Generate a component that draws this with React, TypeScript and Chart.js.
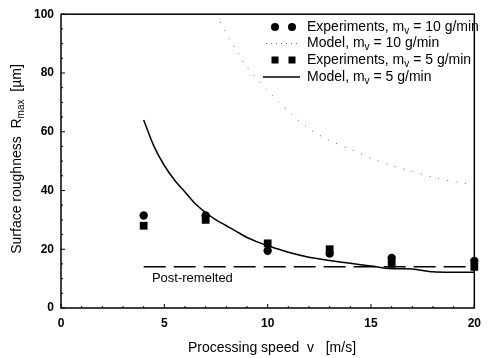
import React, { useEffect, useRef } from "react";
import { Chart, registerables } from "chart.js";

Chart.register(...registerables);

const speeds = [4, 7, 10, 13, 16, 20];
const exp10 = [31.5, 31.5, 19.5, 18.5, 17, 16];
const exp5 = [28, 30, 22, 20, 15, 14];

const model5Speed = [4, 4.5, 5, 5.5, 6, 6.5, 7, 7.5, 8, 8.5, 9, 9.5, 10, 11, 12, 13, 14, 15, 16, 17, 18, 19, 20];
const model5Vals = [64, 55, 48.5, 43.5, 39.5, 35.5, 32.5, 30, 28, 26, 24, 22.5, 21.2, 19, 17.3, 16.2, 15.2, 14.3, 13.4, 13.3, 12.3, 12.2, 12.2];

const model10Speed = [7.5, 8, 8.5, 9, 9.5, 10, 11, 12, 13, 14, 15, 16, 17, 18, 19, 20];
const model10Vals = [100, 93.5, 87.5, 82, 78, 74, 67, 61, 57, 54, 51, 48.5, 46.5, 44.5, 43, 42];

const remeltSpeed = [4, 20];
const remeltVals = [14, 14];
const remeltLabel = "Post-remelted";

const xTicks = [0, 5, 10, 15, 20];
const yTicks = [0, 20, 40, 60, 80, 100];

type Seg = { t: string; sub?: boolean };
const legendLabels: Seg[][] = [
  [{ t: "Experiments, m" }, { t: "v", sub: true }, { t: " = 10 g/min" }],
  [{ t: "Model, m" }, { t: "v", sub: true }, { t: " = 10 g/min" }],
  [{ t: "Experiments, m" }, { t: "v", sub: true }, { t: " = 5 g/min" }],
  [{ t: "Model, m" }, { t: "v", sub: true }, { t: " = 5 g/min" }],
];
const xTitle: Seg[] = [{ t: "Processing speed  v   [m/s]" }];
const yTitle: Seg[] = [{ t: "Surface roughness  R" }, { t: "max", sub: true }, { t: "  [µm]" }];

const FONT = "'Liberation Sans', Arial, sans-serif";

function richWidth(ctx: CanvasRenderingContext2D, segs: Seg[], size: number) {
  let w = 0;
  for (const s of segs) {
    ctx.font = `${s.sub ? Math.round(size * 0.7) : size}px ${FONT}`;
    w += ctx.measureText(s.t).width;
  }
  return w;
}

function drawRich(ctx: CanvasRenderingContext2D, segs: Seg[], x: number, y: number, size: number, align: "left" | "center") {
  const w = richWidth(ctx, segs, size);
  let cx = align === "center" ? x - w / 2 : x;
  ctx.textBaseline = "middle";
  ctx.textAlign = "left";
  ctx.fillStyle = "#000";
  for (const s of segs) {
    ctx.font = `${s.sub ? Math.round(size * 0.7) : size}px ${FONT}`;
    ctx.fillText(s.t, cx, s.sub ? y + size * 0.3 : y);
    cx += ctx.measureText(s.t).width;
  }
}

const decorPlugin = {
  id: "decor",
  afterDatasetsDraw(chart: any) {
    const ctx: CanvasRenderingContext2D = chart.ctx;
    const { left, right, top, bottom } = chart.chartArea;
    const xs = chart.scales.x;
    const ys = chart.scales.y;
    ctx.save();
    // frame
    ctx.strokeStyle = "#000";
    ctx.lineWidth = 1.5;
    ctx.strokeRect(left, top, right - left, bottom - top);
    // inward ticks
    ctx.lineWidth = 1;
    for (let v = 0; v <= 20; v += 1) {
      const px = xs.getPixelForValue(v);
      const len = v % 5 === 0 ? 4 : 2;
      ctx.beginPath();
      ctx.moveTo(px, bottom);
      ctx.lineTo(px, bottom - len);
      ctx.stroke();
    }
    for (let v = 0; v <= 100; v += 5) {
      const py = ys.getPixelForValue(v);
      const len = v % 20 === 0 ? 4 : 2;
      ctx.beginPath();
      ctx.moveTo(left, py);
      ctx.lineTo(left + len, py);
      ctx.stroke();
    }
    // post-remelted label
    ctx.font = `13px ${FONT}`;
    ctx.fillStyle = "#000";
    ctx.textAlign = "left";
    ctx.textBaseline = "middle";
    ctx.fillText(remeltLabel, xs.getPixelForValue(4.4), ys.getPixelForValue(10));
    // axis titles
    drawRich(ctx, xTitle, 272, 348, 14, "center");
    ctx.save();
    ctx.translate(17, 159);
    ctx.rotate(-Math.PI / 2);
    drawRich(ctx, yTitle, 0, 0, 14, "center");
    ctx.restore();
    // legend
    const rows = [27, 43.5, 60, 77];
    const textX = 307;
    ctx.fillStyle = "#000";
    for (const mx of [275, 292]) {
      ctx.beginPath();
      ctx.arc(mx, rows[0], 4, 0, Math.PI * 2);
      ctx.fill();
    }
    ctx.strokeStyle = "#666";
    ctx.lineWidth = 1;
    ctx.setLineDash([1, 4]);
    ctx.beginPath();
    ctx.moveTo(266, rows[1]);
    ctx.lineTo(300, rows[1]);
    ctx.stroke();
    ctx.setLineDash([]);
    for (const mx of [275, 292]) {
      ctx.fillRect(mx - 3.5, rows[2] - 3.5, 7, 7);
    }
    ctx.strokeStyle = "#000";
    ctx.lineWidth = 1.5;
    ctx.beginPath();
    ctx.moveTo(263, rows[3]);
    ctx.lineTo(300, rows[3]);
    ctx.stroke();
    legendLabels.forEach((segs, i) => drawRich(ctx, segs, textX, rows[i], 14, "left"));
    ctx.restore();
  },
};

function toPts(xs: number[], ys: number[]) {
  return xs.map((x, i) => ({ x, y: ys[i] }));
}

export default function App() {
  const ref = useRef<HTMLCanvasElement | null>(null);
  useEffect(() => {
    document.body.style.margin = "0";
    const canvas = ref.current!;
    const chart = new Chart(canvas, {
      type: "scatter",
      data: {
        datasets: [
          {
            data: toPts(remeltSpeed, remeltVals),
            showLine: true,
            borderColor: "#000",
            borderWidth: 1.5,
            borderDash: [22, 8],
            pointRadius: 0,
          },
          {
            data: toPts(model10Speed, model10Vals),
            showLine: true,
            borderColor: "#666",
            borderWidth: 1,
            borderDash: [1, 8],
            pointRadius: 0,
            tension: 0.3,
          },
          {
            data: toPts(model5Speed, model5Vals),
            showLine: true,
            borderColor: "#000",
            borderWidth: 1.5,
            pointRadius: 0,
            tension: 0.3,
          },
          {
            data: toPts(speeds, exp10),
            pointStyle: "circle",
            pointRadius: 4.2,
            backgroundColor: "#000",
            borderColor: "#000",
            borderWidth: 0,
            clip: false,
          },
          {
            data: toPts(speeds, exp5),
            pointStyle: "rect",
            pointRadius: 5.5,
            backgroundColor: "#000",
            borderColor: "#000",
            borderWidth: 0,
            clip: false,
          },
        ],
      },
      options: {
        responsive: false,
        animation: false,
        layout: { padding: { left: 0, right: 7, top: 13, bottom: 0 } },
        plugins: { legend: { display: false }, tooltip: { enabled: false } },
        scales: {
          x: {
            type: "linear",
            min: 0,
            max: 20,
            afterBuildTicks: (s: any) => {
              s.ticks = xTicks.map((v) => ({ value: v }));
            },
            afterFit: (s: any) => {
              s.height = 50;
            },
            grid: { display: false, drawTicks: false },
            border: { display: false },
            ticks: { padding: 8, color: "#000", font: { size: 12, weight: "bold", family: FONT } },
          },
          y: {
            type: "linear",
            min: 0,
            max: 100,
            afterBuildTicks: (s: any) => {
              s.ticks = yTicks.map((v) => ({ value: v }));
            },
            afterFit: (s: any) => {
              s.width = 61;
            },
            grid: { display: false, drawTicks: false },
            border: { display: false },
            ticks: { padding: 7, color: "#000", font: { size: 12, weight: "bold", family: FONT } },
          },
        },
      },
      plugins: [decorPlugin],
    } as any);
    return () => chart.destroy();
  }, []);
  return <canvas ref={ref} width={489} height={358} style={{ display: "block" }} />;
}
